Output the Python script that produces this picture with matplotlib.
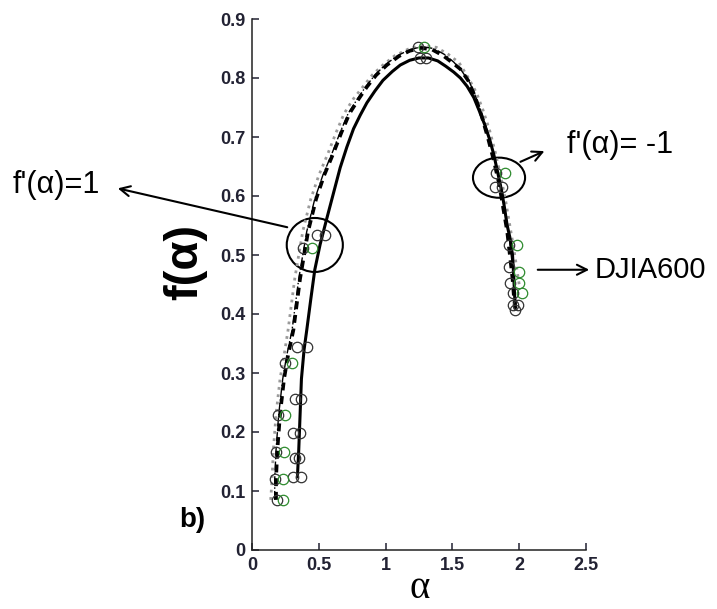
import matplotlib
matplotlib.use("Agg")
import matplotlib.pyplot as plt
from matplotlib.patches import Ellipse

plt.rcParams["font.family"] = ["Liberation Sans", "DejaVu Sans"]

# multifractal spectra
alpha_solid = [0.34, 0.35, 0.36, 0.37, 0.39, 0.41, 0.44, 0.47, 0.51, 0.56, 0.61, 0.66, 0.71, 0.76,
               0.81, 0.86, 0.92, 0.98, 1.05, 1.11, 1.18, 1.25, 1.32, 1.39, 1.45, 1.51, 1.56, 1.61,
               1.66, 1.70, 1.74, 1.78, 1.81, 1.84, 1.87, 1.89, 1.91, 1.93, 1.95, 1.96, 1.97]
f_solid = [0.124, 0.17, 0.23, 0.29, 0.34, 0.373, 0.425, 0.475, 0.518, 0.562, 0.605, 0.648, 0.683, 0.714,
           0.737, 0.758, 0.778, 0.796, 0.811, 0.822, 0.830, 0.834, 0.834, 0.829, 0.820, 0.810, 0.800, 0.786,
           0.767, 0.745, 0.722, 0.695, 0.670, 0.639, 0.607, 0.580, 0.550, 0.530, 0.500, 0.460, 0.410]

alpha_dash = [0.18, 0.18, 0.19, 0.21, 0.24, 0.27, 0.31, 0.36, 0.42, 0.48, 0.54, 0.61, 0.67, 0.73, 0.80,
              0.86, 0.93, 1.01, 1.10, 1.18, 1.27, 1.35, 1.43, 1.50, 1.56, 1.62, 1.67, 1.72, 1.77, 1.81,
              1.85, 1.88, 1.91, 1.93, 1.95, 1.96, 1.97]
f_dash = [0.085, 0.12, 0.17, 0.23, 0.29, 0.33, 0.373, 0.46, 0.54, 0.595, 0.635, 0.673, 0.708, 0.74, 0.765,
          0.785, 0.805, 0.822, 0.837, 0.846, 0.851, 0.848, 0.838, 0.826, 0.815, 0.795, 0.768, 0.735, 0.695, 0.66,
          0.62, 0.58, 0.54, 0.50, 0.46, 0.43, 0.41]

alpha_dd = [0.17, 0.17, 0.18, 0.20, 0.23, 0.26, 0.30, 0.35, 0.41, 0.47, 0.53, 0.60, 0.66, 0.72, 0.79,
            0.85, 0.92, 1.00, 1.09, 1.18, 1.27, 1.36, 1.44, 1.51, 1.57, 1.63, 1.68, 1.73, 1.78, 1.82,
            1.86, 1.89, 1.92, 1.94, 1.96, 1.97, 1.98]
f_dd = [0.085, 0.12, 0.17, 0.23, 0.29, 0.33, 0.373, 0.46, 0.54, 0.595, 0.635, 0.673, 0.708, 0.74, 0.765,
        0.785, 0.805, 0.823, 0.838, 0.848, 0.853, 0.850, 0.840, 0.827, 0.812, 0.792, 0.765, 0.733, 0.695, 0.66,
        0.62, 0.58, 0.54, 0.50, 0.46, 0.43, 0.41]

alpha_dot = [0.14, 0.15, 0.16, 0.18, 0.21, 0.24, 0.27, 0.32, 0.38, 0.44, 0.50, 0.57, 0.63, 0.69, 0.76,
             0.83, 0.90, 0.98, 1.07, 1.17, 1.27, 1.38, 1.47, 1.55, 1.62, 1.68, 1.73, 1.78, 1.82, 1.86,
             1.90, 1.93, 1.96, 1.98, 2.00]
f_dot = [0.085, 0.12, 0.17, 0.23, 0.29, 0.33, 0.373, 0.46, 0.54, 0.595, 0.635, 0.673, 0.708, 0.74, 0.765,
         0.785, 0.805, 0.822, 0.838, 0.849, 0.855, 0.852, 0.840, 0.826, 0.800, 0.775, 0.745, 0.710, 0.675, 0.635,
         0.590, 0.550, 0.510, 0.480, 0.450]

# measured points (circles)
alpha_pts_a = [0.31, 0.32, 0.31, 0.32, 0.34, 0.49, 1.26, 1.82, 1.92, 1.93, 1.95, 1.95, 1.97]
f_pts_a = [0.124, 0.156, 0.198, 0.256, 0.344, 0.534, 0.834, 0.615, 0.48, 0.452, 0.435, 0.415, 0.407]
alpha_pts_b = [0.37, 0.35, 0.36, 0.37, 0.41, 0.55, 1.30, 1.87, 1.99]
f_pts_b = [0.124, 0.156, 0.198, 0.256, 0.344, 0.534, 0.834, 0.615, 0.415]
alpha_pts_c = [0.19, 0.17, 0.18, 0.195, 0.25, 0.38, 1.24, 1.83, 1.92]
f_pts_c = [0.085, 0.12, 0.166, 0.229, 0.317, 0.512, 0.853, 0.639, 0.517]
alpha_pts_g = [0.23, 0.23, 0.24, 0.25, 0.30, 0.45, 1.29, 1.89, 1.98, 2.00, 2.00, 2.02]
f_pts_g = [0.085, 0.12, 0.166, 0.229, 0.317, 0.512, 0.853, 0.639, 0.517, 0.471, 0.452, 0.435]

x_ticks = [0, 0.5, 1, 1.5, 2, 2.5]
x_labels = ["0", "0.5", "1", "1.5", "2", "2.5"]
y_ticks = [0, 0.1, 0.2, 0.3, 0.4, 0.5, 0.6, 0.7, 0.8, 0.9]
y_labels = ["0", "0.1", "0.2", "0.3", "0.4", "0.5", "0.6", "0.7", "0.8", "0.9"]

W, H = 717, 609
fig = plt.figure(figsize=(W / 100, H / 100), dpi=100)
ax = fig.add_axes([252 / W, 1 - 550 / H, 334 / W, 531 / H])

ax.plot(alpha_dot, f_dot, ls=":", color="#9a9a9a", lw=2.0)
ax.plot(alpha_dd, f_dd, ls="-.", color="black", lw=1.0)
ax.plot(alpha_dash, f_dash, ls=(0, (2.2, 1.6)), color="black", lw=2.6)
ax.plot(alpha_solid, f_solid, ls="-", color="black", lw=2.2)

mk = dict(ls="none", marker="o", ms=7.5, mfc="none", mew=0.9)
ax.plot(alpha_pts_a, f_pts_a, mec="#333333", **mk)
ax.plot(alpha_pts_b, f_pts_b, mec="#333333", **mk)
ax.plot(alpha_pts_c, f_pts_c, mec="#333333", **mk)
ax.plot(alpha_pts_g, f_pts_g, mec="#2e8b2e", **mk)

# the two highlighted regions
ax.add_patch(Ellipse((0.47, 0.517), 0.42, 0.0915, fill=False, color="black", lw=1.5))
ax.add_patch(Ellipse((1.849, 0.631), 0.39, 0.068, fill=False, color="black", lw=1.5))

arr = dict(arrowstyle="->", color="black", lw=1.5, mutation_scale=18)
ax.annotate("", xy=(-1.025, 0.614), xytext=(0.284, 0.546), arrowprops=arr, annotation_clip=False)
ax.annotate("", xy=(2.208, 0.678), xytext=(1.99, 0.656), arrowprops=arr, annotation_clip=False)
ax.annotate("", xy=(2.545, 0.475), xytext=(2.118, 0.475), arrowprops=arr, annotation_clip=False)

ax.text(-1.789, 0.619, "f'(α)=1", fontsize=22, ha="left", va="center", clip_on=False)
ax.text(2.358, 0.686, "f'(α)= -1", fontsize=22, ha="left", va="center", clip_on=False)
ax.text(2.567, 0.475, "DJIA600", fontsize=21, ha="left", va="center", clip_on=False)

ax.text(-0.20, 0.542, "f(α)", fontsize=34, fontweight="bold", rotation=90,
        ha="center", va="center", transform=ax.transAxes)
ax.text(0.503, -0.072, "α", fontsize=28, family="Liberation Serif",
        ha="center", va="center", transform=ax.transAxes)
ax.text(-0.18, 0.0565, "b)", fontsize=20, fontweight="bold",
        ha="center", va="center", transform=ax.transAxes)

ax.set_xlim(0, 2.5)
ax.set_ylim(0, 0.9)
ax.set_xticks(x_ticks, x_labels)
ax.set_yticks(y_ticks, y_labels)
ax.tick_params(direction="in", length=5, width=1.1, labelsize=13, colors="#222233", pad=5)
for lab in ax.get_xticklabels() + ax.get_yticklabels():
    lab.set_fontweight("bold")
ax.spines["top"].set_visible(False)
ax.spines["right"].set_visible(False)
for side in ("left", "bottom"):
    ax.spines[side].set_linewidth(1.1)
    ax.spines[side].set_color("#222222")

fig.savefig("out.png", dpi=100)
